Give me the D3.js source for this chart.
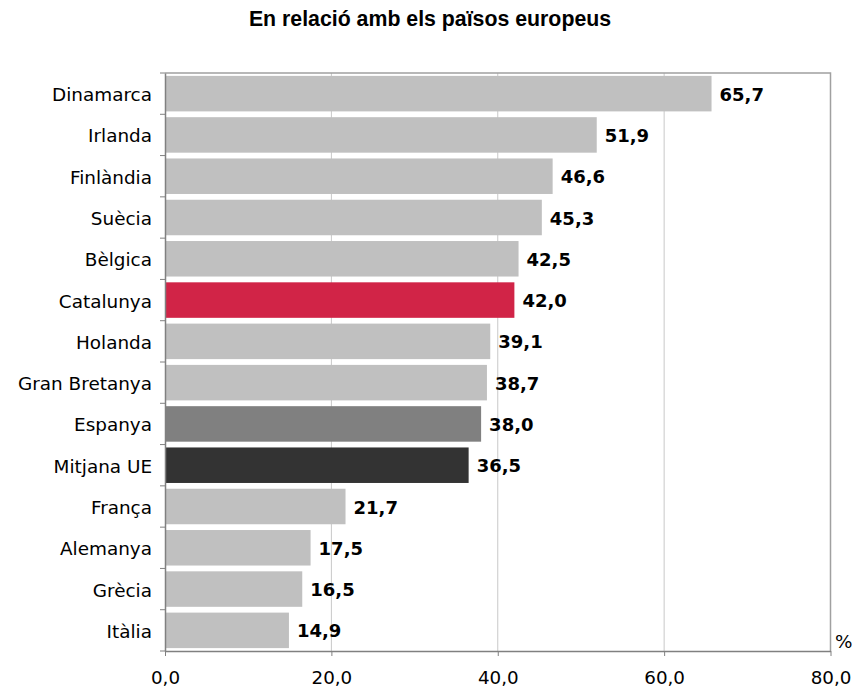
<!DOCTYPE html>
<html>
<head>
  <meta charset="utf-8">
  <title>En relació amb els països europeus</title>
  <script src="https://d3js.org/d3.v7.min.js"></script>
  <style>
    body { margin: 0; background: #fff; }
    svg { display: block; }
    .title { font-family: "Liberation Sans", Arial, sans-serif; font-weight: bold; font-size: 21.3px; }
    .cat { font-family: "DejaVu Sans", Verdana, sans-serif; font-size: 18.4px; fill: #000; }
    .val { font-family: "DejaVu Sans", Verdana, sans-serif; font-size: 18px; font-weight: bold; fill: #000; }
    .tick-label { font-family: "DejaVu Sans", Verdana, sans-serif; font-size: 18.3px; fill: #000; }
  </style>
</head>
<body>
  <svg id="chart" width="857" height="691"></svg>

  <script>
    // Data
    const countries = ["Dinamarca", "Irlanda", "Finlàndia", "Suècia", "Bèlgica", "Catalunya",
      "Holanda", "Gran Bretanya", "Espanya", "Mitjana UE", "França", "Alemanya", "Grècia", "Itàlia"];
    const values = [65.7, 51.9, 46.6, 45.3, 42.5, 42.0, 39.1, 38.7, 38.0, 36.5, 21.7, 17.5, 16.5, 14.9];
    const xTicks = [0, 20, 40, 60, 80];

    // highlighted bars
    const barColor = {
      "Catalunya": "#d12447",
      "Espanya": "#808080",
      "Mitjana UE": "#333333"
    };

    const fmt = (v) => v.toFixed(1).replace(".", ",");

    const svg = d3.select("#chart");
    const plotLeft = 165, plotRight = 830.5, plotTop = 73, plotBottom = 651;

    const x = d3.scaleLinear().domain([0, 80]).range([plotLeft, plotRight]);
    const y = d3.scaleBand().domain(countries).range([plotTop, plotBottom])
      .paddingInner(0.14).paddingOuter(0.07);

    // Title
    svg.append("text")
      .attr("class", "title")
      .attr("x", 430)
      .attr("y", 26)
      .attr("text-anchor", "middle")
      .text("En relació amb els països europeus");

    // Gridlines
    svg.selectAll(".grid")
      .data(xTicks.slice(1, -1))
      .enter()
      .append("line")
      .attr("x1", (d) => x(d)).attr("x2", (d) => x(d))
      .attr("y1", plotTop).attr("y2", plotBottom)
      .attr("stroke", "#c8c8c8")
      .attr("stroke-width", 1);

    // Plot border (top, right)
    svg.append("path")
      .attr("d", `M${plotLeft},${plotTop}H${plotRight}V${plotBottom}`)
      .attr("fill", "none")
      .attr("stroke", "#a0a0a0")
      .attr("stroke-width", 1.5);

    // Bars
    svg.selectAll(".bar")
      .data(countries)
      .enter()
      .append("rect")
      .attr("x", x(0))
      .attr("y", (d) => y(d))
      .attr("width", (d, i) => x(values[i]) - x(0))
      .attr("height", y.bandwidth())
      .attr("fill", (d) => barColor[d] || "#c0c0c0");

    // Value labels
    svg.selectAll(".val")
      .data(countries)
      .enter()
      .append("text")
      .attr("class", "val")
      .attr("x", (d, i) => x(values[i]) + 8)
      .attr("y", (d) => y(d) + y.bandwidth() / 2 + 7)
      .text((d, i) => fmt(values[i]));

    // Y axis
    const yAxis = svg.append("g")
      .attr("transform", `translate(${plotLeft},0)`)
      .call(d3.axisLeft(y).tickSize(0).tickFormat(""));
    yAxis.select(".domain").attr("stroke", "#808080").attr("stroke-width", 1.5);

    // y tick marks at band boundaries
    const bounds = countries.map((d) => y(d) - y.step() * y.paddingInner() / 2);
    bounds.push(plotBottom);
    svg.selectAll(".ytick")
      .data(bounds)
      .enter()
      .append("line")
      .attr("x1", plotLeft - 5).attr("x2", plotLeft)
      .attr("y1", (d) => d).attr("y2", (d) => d)
      .attr("stroke", "#808080");

    svg.selectAll(".cat")
      .data(countries)
      .enter()
      .append("text")
      .attr("class", "cat")
      .attr("x", plotLeft - 13)
      .attr("y", (d) => y(d) + y.bandwidth() / 2 + 7.5)
      .attr("text-anchor", "end")
      .text((d) => d);

    // X axis
    const xAxis = svg.append("g")
      .attr("transform", `translate(0,${plotBottom})`)
      .call(d3.axisBottom(x).tickValues(xTicks).tickSize(5).tickSizeOuter(0).tickFormat(fmt));
    xAxis.select(".domain").attr("stroke", "#808080").attr("stroke-width", 1.5);
    xAxis.selectAll(".tick line").attr("stroke", "#808080");
    xAxis.selectAll(".tick text")
      .attr("class", "tick-label")
      .attr("y", 33).attr("dy", null)
      .attr("font-size", null).attr("font-family", null);

    // Unit label
    svg.append("text")
      .attr("class", "cat")
      .attr("x", 835)
      .attr("y", 648)
      .text("%");
  </script>
</body>
</html>
